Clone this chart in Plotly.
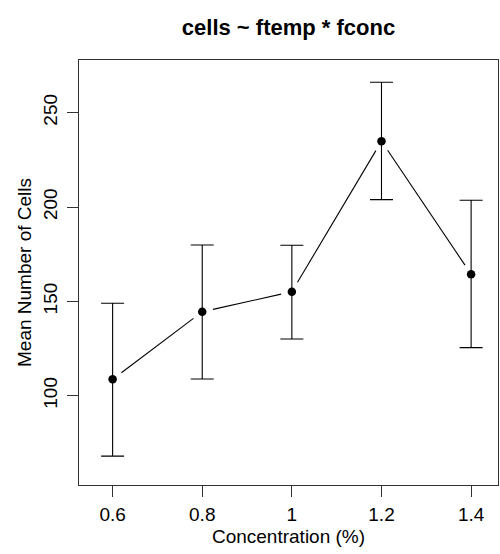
import plotly.graph_objects as go

conc = [0.6, 0.8, 1.0, 1.2, 1.4]
mean_cells = [108.7, 144.5, 155.1, 234.9, 164.4]
upper = [149.0, 179.9, 179.7, 266.1, 203.6]
lower = [68.0, 108.9, 130.1, 203.9, 125.5]

x_ticks = [0.6, 0.8, 1.0, 1.2, 1.4]
x_tick_text = ["0.6", "0.8", "1", "1.2", "1.4"]
y_ticks = [100, 150, 200, 250]

X_RANGE = [0.525, 1.46]
Y_RANGE = [52.7, 277.9]
W, H = 500, 554
ML, MR, MT, MB = 79, 2, 60, 69
PW, PH = W - ML - MR, H - MT - MB
GAP_PX = 11.0

err_plus = [u - m for u, m in zip(upper, mean_cells)]
err_minus = [m - l for m, l in zip(mean_cells, lower)]

# R type="b": line segments with gaps around the points
sx = PW / (X_RANGE[1] - X_RANGE[0])
sy = PH / (Y_RANGE[1] - Y_RANGE[0])
seg_x, seg_y = [], []
for i in range(len(conc) - 1):
    x0, y0, x1, y1 = conc[i], mean_cells[i], conc[i + 1], mean_cells[i + 1]
    dxp, dyp = (x1 - x0) * sx, (y1 - y0) * sy
    L = (dxp ** 2 + dyp ** 2) ** 0.5
    f = GAP_PX / L
    seg_x += [x0 + (x1 - x0) * f, x1 - (x1 - x0) * f, None]
    seg_y += [y0 + (y1 - y0) * f, y1 - (y1 - y0) * f, None]

FONT = "Liberation Sans, Arial, sans-serif"

fig = go.Figure()
fig.add_trace(go.Scatter(
    x=seg_x, y=seg_y, mode="lines",
    line=dict(color="black", width=1.1),
    showlegend=False, hoverinfo="skip",
))
fig.add_trace(go.Scatter(
    x=conc, y=mean_cells, mode="markers",
    marker=dict(color="black", size=8.5),
    error_y=dict(type="data", symmetric=False, array=err_plus, arrayminus=err_minus,
                 color="black", thickness=1.1, width=11.5),
    showlegend=False,
))

fig.update_layout(
    width=W, height=H,
    margin=dict(l=ML, r=MR, t=MT, b=MB),
    paper_bgcolor="white", plot_bgcolor="white",
    font=dict(family=FONT, size=19, color="black"),
    title=dict(text="<b>cells ~ ftemp * fconc</b>", x=(ML + W - MR) / 2 / W, xanchor="center",
               y=1 - 27 / H, yanchor="middle", font=dict(size=22, family=FONT)),
)
fig.update_xaxes(
    range=X_RANGE, tickvals=x_ticks, ticktext=x_tick_text,
    showgrid=False, zeroline=False, showline=True, linecolor="#333", linewidth=1.2,
    mirror=True, ticks="outside", ticklen=11, tickcolor="#333", tickwidth=1.2,
    ticklabelstandoff=1,
    title=dict(text="Concentration (%)", standoff=5, font=dict(size=19)),
    tickfont=dict(size=19),
)
fig.update_yaxes(
    range=Y_RANGE, tickvals=y_ticks,
    showgrid=False, zeroline=False, showline=True, linecolor="#333", linewidth=1.2,
    mirror=True, ticks="outside", ticklen=11, tickcolor="#333", tickwidth=1.2,
    tickangle=-90, ticklabelstandoff=2,
    title=dict(text="Mean Number of Cells", standoff=3, font=dict(size=19)),
    tickfont=dict(size=19),
)

fig.write_html("out.html")
